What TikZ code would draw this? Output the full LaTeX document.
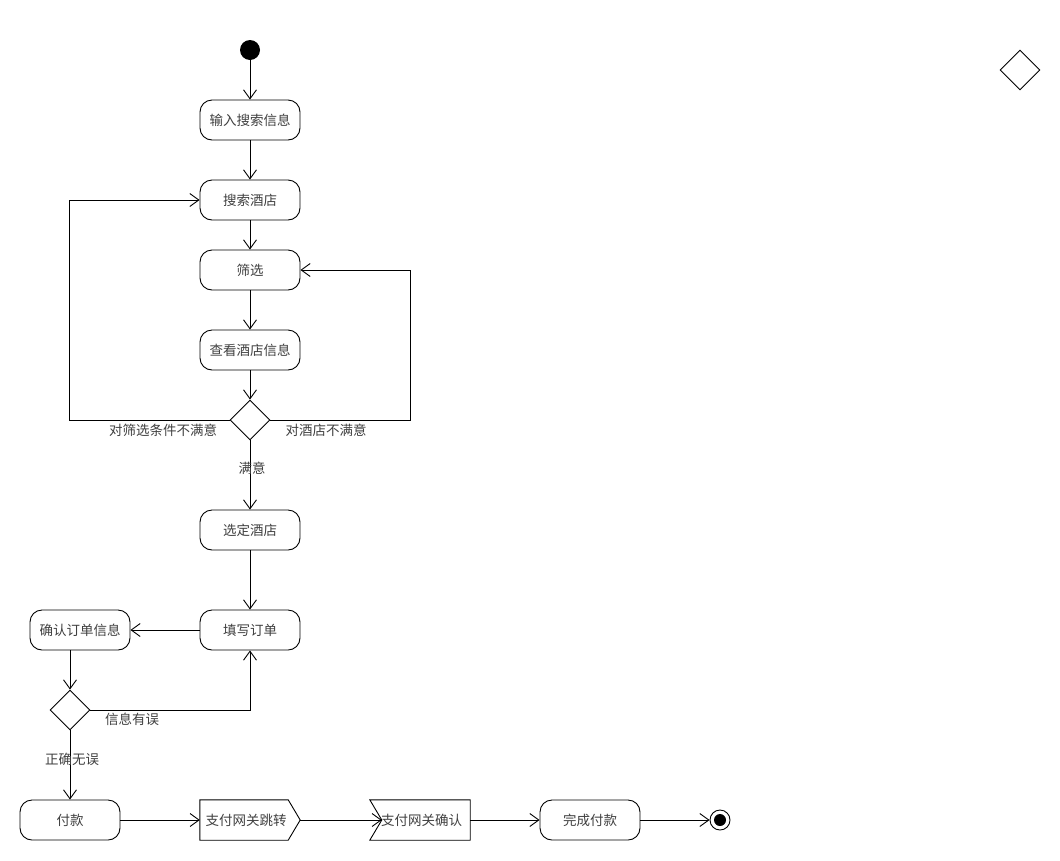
\documentclass[tikz,border=0pt]{standalone}
\usepackage{fontspec}
\setmainfont{Noto Sans CJK SC}
\usetikzlibrary{arrows.meta,shapes.geometric}
\begin{document}
\begin{tikzpicture}[x=1pt,y=-1pt,
  every node/.style={font=\fontsize{13.5}{15}\selectfont, text=black!75},
  act/.style={draw=black, line width=0.9pt, rounded corners=12pt, minimum width=100pt, minimum height=40pt, inner sep=0pt},
  dec/.style={draw=black, line width=0.9pt, diamond, minimum width=40pt, minimum height=40pt, inner sep=0pt, aspect=1},
  sigbox/.style={minimum width=100pt, minimum height=40pt, inner sep=0pt},
  sigline/.style={draw=black, line width=0.9pt},
  arr/.style={draw=black, line width=0.9pt, -{Straight Barb[length=9pt,width=13pt,line width=0.9pt]}},
  lbl/.style={inner sep=0pt}
]
\useasboundingbox (0,0) rectangle (1060,860);
\fill[white] (0,0) rectangle (1060,860);

\node[circle, fill=black, minimum size=20pt, inner sep=0pt] (start) at (250,50) {};
\node[act] (a1) at (250,120) {输入搜索信息};
\node[act] (a2) at (250,200) {搜索酒店};
\node[act] (a3) at (250,270) {筛选};
\node[act] (a4) at (250,350) {查看酒店信息};
\node[dec] (d1) at (250,420) {};
\node[act] (a5) at (250,530) {选定酒店};
\node[act] (a6) at (250,630) {填写订单};
\node[act] (a7) at (80,630) {确认订单信息};
\node[dec] (d2) at (70,710) {};
\node[act] (a8) at (70,820) {付款};
\node[sigbox] (s1) at (250,820) {\hspace*{-8pt}支付网关跳转};
\draw[sigline] (s1.north west) -- ([xshift=-12pt]s1.north east) -- (s1.east) -- ([xshift=-12pt]s1.south east) -- (s1.south west) -- cycle;
\node[sigbox] (r1) at (420,820) {\hspace*{3pt}支付网关确认};
\draw[sigline] (r1.north west) -- (r1.north east) -- (r1.south east) -- (r1.south west) -- ([xshift=12pt]r1.west) -- cycle;
\node[act] (a9) at (590,820) {完成付款};
\node[circle, draw=black, line width=0.9pt, minimum size=20pt, inner sep=0pt] (end) at (720,820) {};
\fill[black] (end.center) circle (6pt);
\node[dec] (d3) at (1020,70) {};

\draw[arr] (start) -- (a1);
\draw[arr] (a1) -- (a2);
\draw[arr] (a2) -- (a3);
\draw[arr] (a3) -- (a4);
\draw[arr] (a4) -- (d1);
\draw[arr] (d1.west) -- ++(-160,0) |- (a2.west);
\draw[arr] (d1.east) -- ++(140,0) |- (a3.east);
\draw[arr] (d1.south) -- (a5);
\draw[arr] (a5) -- (a6);
\draw[arr] (a6) -- (a7);
\draw[arr] (a7.south -| d2.north) -- (d2.north);
\draw[arr] (d2.east) -| (a6.south);
\draw[arr] (d2.south) -- (a8);
\draw[arr] (a8) -- (s1.west);
\draw[arr] (s1.east) -- ([xshift=12pt]r1.west);
\draw[arr] (r1.east) -- (a9);
\draw[arr] (a9) -- (end);

\node[lbl] (l1) at (163,430) {对筛选条件不满意};
\node[lbl] (l2) at (326,430) {对酒店不满意};
\node[lbl] (l3) at (252,468) {满意};
\node[lbl] (l4) at (132,719) {信息有误};
\node[lbl] (l5) at (72,759) {正确无误};
\end{tikzpicture}
\end{document}
